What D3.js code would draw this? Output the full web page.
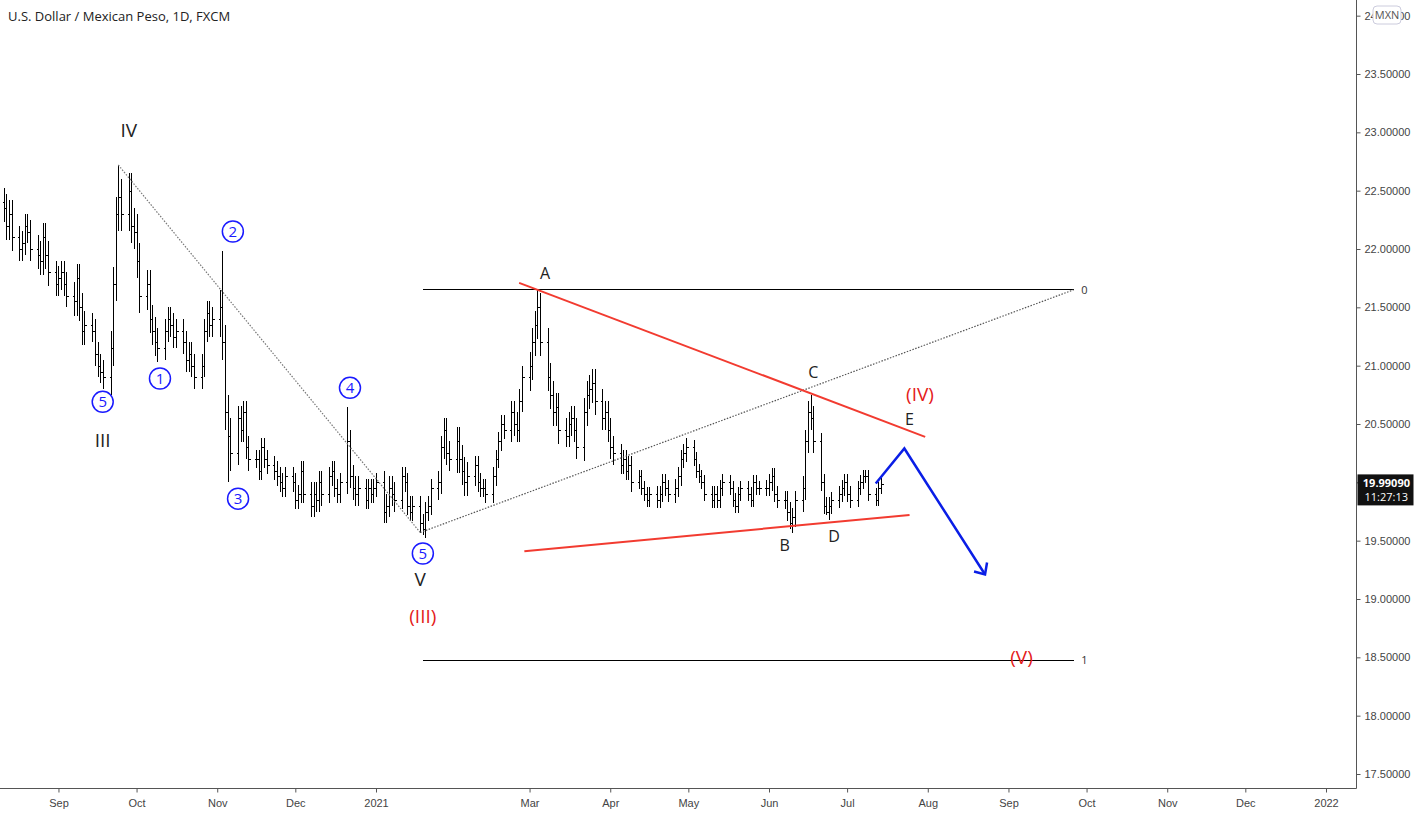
<!DOCTYPE html>
<html><head><meta charset="utf-8">
<script src="https://cdn.jsdelivr.net/npm/d3@7"></script>
<style>body{margin:0;background:#fff;font-family:"Open Sans",Roboto,sans-serif}</style>
</head><body><div class="d3-container"></div>
<script>
// daily closes, one row per week, first bar Tue 2020-08-11
const closes = [
  22.35,22.2,22.3,22.1,
  22.0,22.05,22.2,22.15,22.0,
  21.95,21.9,22.1,21.95,21.8,
  21.7,21.75,21.8,21.7,21.6,
  21.55,21.75,21.5,21.3,21.35,
  21.3,21.1,21.0,20.95,20.9,
  21.15,21.7,22.3,22.45,22.3,
  22.5,22.2,22.15,21.9,21.6,
  21.7,21.4,21.3,21.2,21.15,
  21.3,21.4,21.35,21.25,21.3,
  21.2,21.05,21.1,21.0,20.9,
  21.0,21.3,21.45,21.35,21.4,
  21.5,21.2,20.6,20.4,20.25,
  20.55,20.45,20.6,20.3,20.2,
  20.2,20.1,20.3,20.2,20.15,
  20.1,20.05,20.0,19.95,20.05,
  20.0,19.85,19.9,20.1,19.9,
  19.8,19.9,19.85,20.0,19.9,
  20.05,20.1,19.95,19.9,20.0,
  20.35,20.05,19.95,19.9,19.95,
  19.85,19.95,19.9,19.95,20.0,
  19.75,19.8,19.95,19.9,19.85,
  20.05,20.0,19.8,19.75,19.8,
  19.65,19.6,19.75,19.8,19.95,
  20.0,20.3,20.45,20.25,20.2,
  20.35,20.2,20.1,20.0,20.05,
  20.15,20.0,19.95,19.95,19.9,
  20.05,20.2,20.35,20.5,20.45,
  20.6,20.5,20.45,20.7,20.9,
  21.0,21.2,21.35,21.5,21.2,
  20.9,20.75,20.6,20.65,20.45,
  20.4,20.5,20.55,20.45,20.3,
  20.6,20.75,20.8,20.85,20.7,
  20.55,20.6,20.45,20.3,20.25,
  20.15,20.2,20.1,20.15,20.0,
  20.05,19.95,19.9,19.85,19.9,
  19.85,19.9,20.0,19.95,19.9,
  19.95,20.05,20.2,20.25,20.3,
  20.2,20.1,20.05,20.0,19.9,
  19.85,19.9,19.85,19.95,20.0,
  19.95,19.85,19.8,19.9,19.95,
  19.9,19.85,20.0,19.95,19.95,
  19.95,20.0,20.05,19.9,19.85,
  19.85,19.75,19.65,19.7,19.85,
  19.95,20.35,20.6,20.55,20.35,
  20.0,19.8,19.75,19.8,19.85,
  19.9,19.95,20.0,19.9,19.85,
  19.95,20.0,20.05,20.05,19.9,
  19.85,19.95,19.99
];
// wick size per week (same order as the rows above)
const weeklyWick = [0.12,0.1,0.12,0.1,0.12,0.1,0.15,0.15,0.12,0.1,0.1,0.1,0.15,0.1,0.08,
  0.08,0.08,0.1,0.08,0.1,0.08,0.1,0.08,0.08,0.1,0.12,0.08,0.08,0.1,0.12,0.12,0.1,0.12,0.1,
  0.08,0.06,0.07,0.08,0.06,0.07,0.06,0.06,0.07,0.08,0.1,0.07,0.07,0.06,0.05];
const spikes = [
  {date:"2020-09-24", high:22.72}, {date:"2020-11-03", high:21.98}, {date:"2020-11-05", low:20.0},
  {date:"2020-12-21", high:20.65}, {date:"2021-01-19", low:19.55}, {date:"2021-03-04", high:21.65},
  {date:"2021-06-09", low:19.6}, {date:"2021-06-17", high:20.75}, {date:"2021-06-23", low:19.72}
];
const priceTicks = d3.range(17.5, 24.01, 0.5);
const lastPrice = "19.99090", countdown = "11:27:13";

const labels = [
  {t:"IV", d:"2020-09-28", p:23.02, c:"#222", s:19},
  {t:"III", d:"2020-09-18", p:20.36, c:"#222", s:19},
  {t:"V", d:"2021-01-18", p:19.17, c:"#222", s:19},
  {t:"(III)", d:"2021-01-19", p:18.85, c:"#e41a1a", s:19},
  {t:"(IV)", d:"2021-07-29", p:20.75, c:"#e41a1a", s:19},
  {t:"(V)", d:"2021-09-06", p:18.50, c:"#e41a1a", s:19},
  {t:"A", d:"2021-03-07", p:21.79, c:"#222", s:16},
  {t:"B", d:"2021-06-07", p:19.46, c:"#222", s:16},
  {t:"C", d:"2021-06-18", p:20.94, c:"#222", s:16},
  {t:"D", d:"2021-06-26", p:19.54, c:"#222", s:16},
  {t:"E", d:"2021-07-25", p:20.54, c:"#222", s:16}
];
const circles = [
  {t:"5", d:"2020-09-18", p:20.69}, {t:"1", d:"2020-10-10", p:20.89}, {t:"2", d:"2020-11-07", p:22.15},
  {t:"3", d:"2020-11-09", p:19.86}, {t:"4", d:"2020-12-22", p:20.81}, {t:"5", d:"2021-01-19", p:19.39}
];

const W = 1419, H = 815, axisX = 1356.5, axisY = 788.5;
const parse = d3.timeParse("%Y-%m-%d");
const x = d3.scaleTime().domain([parse("2021-01-01"), parse("2022-01-01")]).range([376, 1326]);
const y = d3.scaleLinear().domain([23.5, 17.5]).range([74, 774]);

// build bars
const days = d3.timeDay.range(parse("2020-08-11"), parse("2021-08-01")).filter(d => d.getDay() % 6 !== 0);
const bars = closes.map((c, i) => {
  const o = i ? closes[i - 1] : c + 0.05;
  const w = weeklyWick[Math.floor((i + 1) / 5)] || 0.08;
  return {date: days[i], o, c, h: Math.max(o, c) + w, l: Math.min(o, c) - w};
});
const fmt = d3.timeFormat("%Y-%m-%d");
spikes.forEach(s => {
  const b = bars.find(b => fmt(b.date) === s.date);
  if (b) { if (s.high) b.h = s.high; if (s.low) b.l = s.low; }
});

const svg = d3.select(".d3-container").append("svg").attr("width", W).attr("height", H)
  .style("font-family", '"Open Sans",Roboto,sans-serif');

// price axis
svg.append("line").attr("x1", axisX).attr("x2", axisX).attr("y1", 0).attr("y2", axisY).attr("stroke", "#555");
svg.append("line").attr("x1", 0).attr("x2", axisX).attr("y1", axisY).attr("y2", axisY).attr("stroke", "#555");
const ya = svg.append("g").attr("transform", `translate(${axisX},0)`)
  .call(d3.axisRight(y).tickValues(priceTicks).tickSize(4).tickFormat(d3.format(".5f")));
ya.select(".domain").remove();
ya.selectAll("text").attr("fill", "#444").attr("font-size", 11).attr("x", 8);
ya.selectAll("line").attr("stroke", "#555");

const xa = svg.append("g").attr("transform", `translate(0,${axisY})`)
  .call(d3.axisBottom(x).ticks(d3.timeMonth.every(1)).tickSize(4)
    .tickFormat(d => d.getMonth() === 0 ? d3.timeFormat("%Y")(d) : d3.timeFormat("%b")(d)));
const xa2 = svg.append("g").attr("transform", `translate(0,${axisY})`)
  .call(d3.axisBottom(x.copy().domain([parse("2020-09-01"), parse("2021-01-01")]).range([x(parse("2020-09-01")), 376]))
    .ticks(d3.timeMonth.every(1)).tickSize(4).tickFormat(d3.timeFormat("%b")));
xa2.selectAll(".tick").filter(d => d.getMonth() === 0).remove();
xa.selectAll(".tick").filter(d => d.getMonth() === 1).remove();
[xa, xa2].forEach(g => {
  g.select(".domain").remove();
  g.selectAll("text").attr("fill", "#444").attr("font-size", 11).attr("dy", "1em");
  g.selectAll("line").attr("stroke", "#555");
});

// OHLC bars
const gb = svg.append("g").attr("stroke", "#000").attr("stroke-width", 1).attr("shape-rendering", "crispEdges");
bars.forEach(b => {
  const bx = Math.round(x(b.date)) + 0.5;
  gb.append("line").attr("x1", bx).attr("x2", bx).attr("y1", Math.round(y(b.h))).attr("y2", Math.round(y(b.l)));
  gb.append("line").attr("x1", bx - 2).attr("x2", bx).attr("y1", Math.round(y(b.o)) + 0.5).attr("y2", Math.round(y(b.o)) + 0.5);
  gb.append("line").attr("x1", bx).attr("x2", bx + 2.5).attr("y1", Math.round(y(b.c)) + 0.5).attr("y2", Math.round(y(b.c)) + 0.5);
});

const line = (d1, p1, d2, p2, col, w, dash) => svg.append("line")
  .attr("x1", x(parse(d1))).attr("y1", y(p1)).attr("x2", x(parse(d2))).attr("y2", y(p2))
  .attr("stroke", col).attr("stroke-width", w).attr("stroke-dasharray", dash || null);

// fib lines
line("2021-01-19", 21.65, "2021-09-26", 21.65, "#000", 1).attr("shape-rendering", "crispEdges");
line("2021-01-19", 18.477, "2021-09-26", 18.477, "#000", 1).attr("shape-rendering", "crispEdges");
svg.append("text").attr("x", x(parse("2021-09-29"))).attr("y", y(21.65) + 4).attr("font-size", 11).attr("fill", "#333").text("0");
svg.append("text").attr("x", x(parse("2021-09-29"))).attr("y", y(18.477) + 4).attr("font-size", 11).attr("fill", "#333").text("1");
line("2020-09-24", 22.72, "2021-01-18", 19.57, "#777", 1.2, "1.5,1.5");
line("2021-01-18", 19.57, "2021-09-26", 21.65, "#555", 1.2, "1.5,1.5");

// triangle
line("2021-02-25", 21.71, "2021-07-31", 20.39, "#f23b30", 2);
line("2021-02-27", 19.41, "2021-07-25", 19.72, "#f23b30", 2);

// projection
const proj = [["2021-07-12", 19.99], ["2021-07-23", 20.29], ["2021-08-23", 19.21]];
svg.append("path").attr("d", d3.line().x(d => x(parse(d[0]))).y(d => y(d[1]))(proj))
  .attr("fill", "none").attr("stroke", "#0a1ee6").attr("stroke-width", 2.5);
const ex = x(parse("2021-08-23")), ey = y(19.21);
svg.append("path").attr("d", `M${ex - 11},${ey - 3}L${ex},${ey}L${ex + 2},${ey - 12}`)
  .attr("fill", "none").attr("stroke", "#0a1ee6").attr("stroke-width", 2.5);

// wave labels
labels.forEach(l => svg.append("text").attr("x", x(parse(l.d))).attr("y", y(l.p)).attr("dy", "0.35em")
  .attr("text-anchor", "middle").attr("font-size", l.s).attr("fill", l.c).text(l.t));
circles.forEach(c => {
  const cx = x(parse(c.d)), cy = y(c.p);
  svg.append("circle").attr("cx", cx).attr("cy", cy).attr("r", 10.5).attr("fill", "#fff").attr("stroke", "#1a1aff").attr("stroke-width", 1.5);
  svg.append("text").attr("x", cx).attr("y", cy).attr("dy", "0.36em").attr("text-anchor", "middle")
    .attr("font-size", 15).attr("fill", "#1a1aff").text(c.t);
});

// title
svg.append("text").attr("x", 8).attr("y", 21).attr("font-size", 13).attr("fill", "#222").text("U.S. Dollar / Mexican Peso, 1D, FXCM");

// currency badge
svg.append("rect").attr("x", 1373).attr("y", 6).attr("width", 28).attr("height", 18).attr("rx", 4)
  .attr("fill", "#fff").attr("stroke", "#ccd");
svg.append("text").attr("x", 1387).attr("y", 19).attr("text-anchor", "middle").attr("font-size", 11).attr("fill", "#555").text("MXN");

// last price box
const ly = y(19.9909);
svg.append("rect").attr("x", axisX + 1).attr("y", ly - 9).attr("width", 56).attr("height", 31).attr("fill", "#111");
svg.append("text").attr("x", 1410).attr("y", ly + 4).attr("text-anchor", "end").attr("font-size", 11).attr("font-weight", "bold").attr("fill", "#fff").text(lastPrice);
svg.append("text").attr("x", 1408).attr("y", ly + 18).attr("text-anchor", "end").attr("font-size", 11).attr("fill", "#fff").text(countdown);
</script></body></html>
